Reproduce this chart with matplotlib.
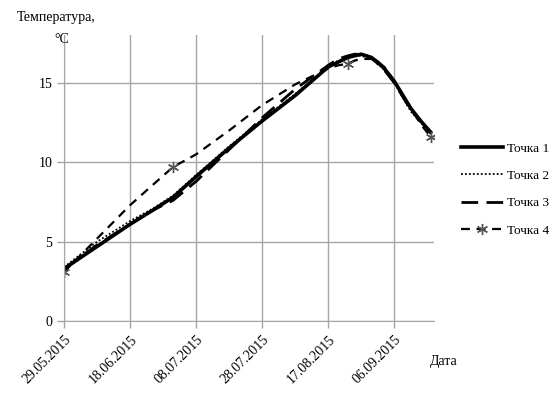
import pandas as pd
import matplotlib.pyplot as plt
import matplotlib.dates as mdates

plt.rcParams['font.family'] = ['Liberation Serif', 'DejaVu Serif']

# Data (days after 29.05.2015)
days = [0, 10, 20, 27, 33, 40, 50, 60, 70, 80, 83, 86, 88, 90, 93, 95, 97, 100, 105, 108, 111]
t1 = [3.3, 4.7, 6.1, 7.0, 7.8, 9.1, 10.9, 12.6, 14.2, 16.0, 16.3, 16.6, 16.7, 16.8, 16.6, 16.3, 15.9, 15.1, 13.4, 12.6, 11.9]
t2 = [3.4, 5.0, 6.3, 7.1, 7.9, 9.2, 11.0, 12.7, 14.3, 16.0, 16.4, 16.6, 16.7, 16.7, 16.5, 16.2, 15.8, 15.0, 13.2, 12.5, 11.8]
t3 = [3.3, 4.8, 6.1, 7.0, 7.6, 8.8, 10.8, 12.8, 14.6, 16.1, 16.5, 16.7, 16.8, 16.8, 16.6, 16.2, 15.8, 15.0, 13.3, 12.6, 11.9]
t4 = [3.1, 5.2, 7.3, 8.6, 9.7, 10.5, 12.0, 13.6, 14.9, 15.9, 16.1, 16.2, 16.4, 16.5, 16.5, 16.3, 16.0, 15.1, 13.4, 12.4, 11.6]
t4_marks = [0, 4, 11, 20]  # measured points of Точка 4

tick_dates = ['29.05.2015', '18.06.2015', '08.07.2015', '28.07.2015', '17.08.2015', '06.09.2015']

start = pd.Timestamp('2015-05-29')
dates = start + pd.to_timedelta(days, unit='D')
ticks = pd.to_datetime(tick_dates, format='%d.%m.%Y')

fig = plt.figure(figsize=(5.57, 3.99), dpi=100)
ax = fig.add_axes([0.115, 0.195, 0.664, 0.717])

ax.plot(dates, t1, color='black', lw=2.6, label='Точка 1')
ax.plot(dates, t2, color='black', lw=1.3, ls=(0, (1, 1.2)), label='Точка 2')
ax.plot(dates, t3, color='black', lw=2.0, ls=(0, (6, 3)), label='Точка 3')
ax.plot(dates, t4, color='black', lw=1.6, ls=(0, (4, 3)), marker=(6, 2, 0),
        markevery=t4_marks, markersize=8, markeredgecolor='#555555',
        markeredgewidth=1.0, label='Точка 4')

ax.set_xlim(start, start + pd.Timedelta(days=112))
ax.set_ylim(0, 18)
ax.set_xticks(ticks)
ax.xaxis.set_major_formatter(mdates.DateFormatter('%d.%m.%Y'))
ax.set_yticks([0, 5, 10, 15])

ax.grid(True, color='#a6a6a6', lw=1.0)
ax.set_axisbelow(True)
for s in ['top', 'right']:
    ax.spines[s].set_visible(False)
for s in ['left', 'bottom']:
    ax.spines[s].set_color('#a6a6a6')
ax.tick_params(colors='#a6a6a6', labelcolor='black', labelsize=10, length=5, width=1)
plt.setp(ax.get_xticklabels(), rotation=45, ha='right', rotation_mode='anchor', fontsize=10)

fig.text(0.03, 0.955, 'Температура,', fontsize=10, va='center')
fig.text(0.098, 0.9, '°C', fontsize=10, va='center')
fig.text(0.772, 0.093, 'Дата', fontsize=10, va='center')

ax.legend(loc='center left', bbox_to_anchor=(1.04, 0.46), frameon=False,
          fontsize=9.5, handlelength=3.2, labelspacing=1.15, handletextpad=0.3)

fig.savefig('out.png', dpi=100)
